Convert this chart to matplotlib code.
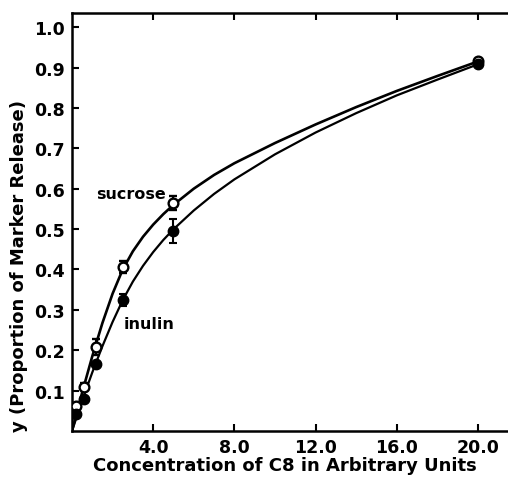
import matplotlib
matplotlib.use('Agg')
import numpy as np
import matplotlib.pyplot as plt

# measured points
conc = [0.2, 0.6, 1.2, 2.5, 5.0, 20.0]
sucrose = [0.062, 0.11, 0.207, 0.405, 0.564, 0.915]
sucrose_err = [0.0, 0.008, 0.02, 0.015, 0.017, 0.0]
inulin = [0.042, 0.08, 0.166, 0.325, 0.495, 0.908]
inulin_err = [0.0, 0.0, 0.0, 0.015, 0.03, 0.0]

# fitted curves
curve_x = [0, 0.5, 1.0, 1.5, 2.0, 2.5, 3.0, 3.5, 4.0, 4.5, 5.0,
           6.0, 7.0, 8.0, 10.0, 12.0, 14.0, 16.0, 18.0, 20.0]
sucrose_fit = [0.0, 0.095, 0.185, 0.2675, 0.34, 0.40, 0.445, 0.481, 0.511,
               0.537, 0.56, 0.60, 0.634, 0.663, 0.713, 0.759, 0.802, 0.842,
               0.879, 0.915]
inulin_fit = [0.0, 0.075, 0.145, 0.21, 0.27, 0.324, 0.37, 0.409, 0.443,
              0.473, 0.4995, 0.546, 0.587, 0.623, 0.685, 0.739, 0.787, 0.831,
              0.87, 0.908]

xticks = [4, 8, 12, 16, 20]
xticklabels = ['4.0', '8.0', '12.0', '16.0', '20.0']
yticks = [0.1, 0.2, 0.3, 0.4, 0.5, 0.6, 0.7, 0.8, 0.9, 1.0]
yticklabels = ['0.1', '0.2', '0.3', '0.4', '0.5', '0.6', '0.7', '0.8', '0.9', '1.0']

fig = plt.figure(figsize=(5.08, 4.81), dpi=100)
ax = fig.add_axes([0.1417, 0.1019, 0.8583, 0.869])

ax.plot(curve_x, sucrose_fit, color='black', lw=1.9, zorder=2,
        solid_joinstyle='round')
ax.plot(curve_x, inulin_fit, color='black', lw=1.6, zorder=2,
        solid_joinstyle='round')

ax.errorbar(conc, sucrose, yerr=sucrose_err, fmt='o', ms=7, mfc='white',
            mec='black', mew=1.7, ecolor='black', elinewidth=1.5, capsize=3,
            capthick=1.5, zorder=3)
ax.errorbar(conc, inulin, yerr=inulin_err, fmt='o', ms=7.5, mfc='black',
            mec='black', ecolor='black', elinewidth=1.5, capsize=3,
            capthick=1.5, zorder=3)

ax.text(1.2, 0.587, 'sucrose', fontsize=11.5, fontweight='bold', va='center')
ax.text(2.55, 0.265, 'inulin', fontsize=11.5, fontweight='bold', va='center')

ax.set_xlim(0, 21.48)
ax.set_ylim(0, 1.035)
ax.set_xticks(xticks)
ax.set_xticklabels(xticklabels)
ax.set_yticks(yticks)
ax.set_yticklabels(yticklabels)
ax.tick_params(direction='in', length=5, width=1.5, labelsize=12.5, top=True,
               pad=5)
for lab in ax.get_xticklabels() + ax.get_yticklabels():
    lab.set_fontweight('bold')

ax.spines['right'].set_visible(False)
for s in ['left', 'bottom', 'top']:
    ax.spines[s].set_linewidth(1.8)

ax.set_xlabel('Concentration of C8 in Arbitrary Units', fontsize=13,
              fontweight='bold')
ax.set_ylabel('y (Proportion of Marker Release)', fontsize=13,
              fontweight='bold')
ax.xaxis.set_label_coords(0.489, -0.06)
ax.yaxis.set_label_coords(-0.1, 0.397)

plt.savefig('out.png', dpi=100)
